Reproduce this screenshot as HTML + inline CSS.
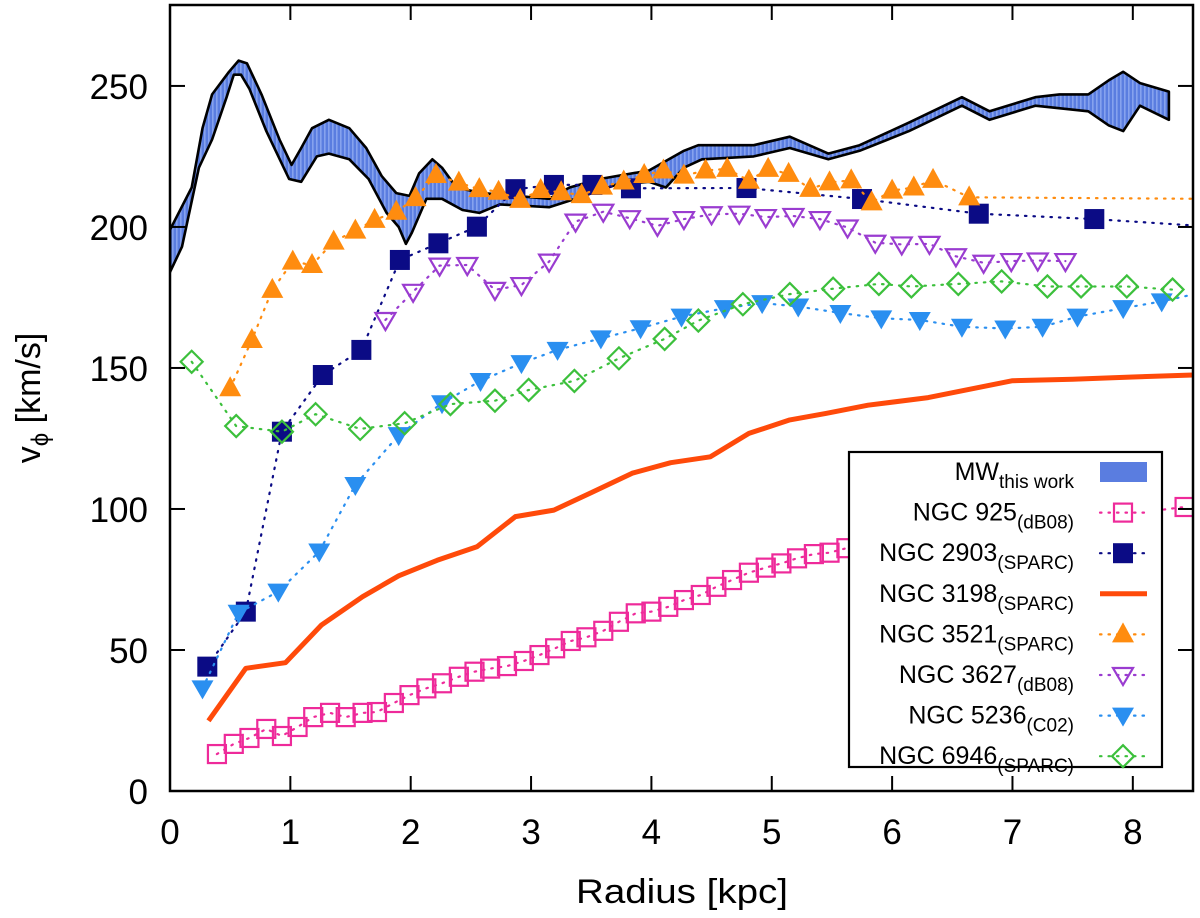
<!DOCTYPE html>
<html><head><meta charset="utf-8"><style>
html,body{margin:0;padding:0;background:#fff;}
svg{display:block;font-family:"Liberation Sans",Arial,sans-serif;}
</style></head><body>
<svg id="chart" width="1200" height="918" viewBox="0 0 1200 918" xmlns="http://www.w3.org/2000/svg">
<defs>
<pattern id="hatch" width="4" height="10" patternUnits="userSpaceOnUse">
<rect width="4" height="10" fill="#5a7de0"/><rect width="1.6" height="10" fill="#86a2ee"/>
</pattern>
<clipPath id="plotclip"><rect x="170" y="5" width="1023" height="786"/></clipPath>
</defs>
<g id="plot" clip-path="url(#plotclip)"></g>
<g id="axes"></g>
<g id="legend"></g>
<text x="682" y="903" font-size="34" text-anchor="middle" textLength="212" lengthAdjust="spacingAndGlyphs">Radius [kpc]</text>
<text transform="translate(40,398) rotate(-90)" font-size="34" text-anchor="middle">v<tspan font-size="24" dy="8">ϕ</tspan><tspan dy="-8"> [km/s]</tspan></text>
</svg>
<script>
// ---- data ----
const mwX = [0,0.18,0.27,0.35,0.49,0.57,0.64,0.76,0.91,1.01,1.09,1.18,1.32,1.49,1.63,1.76,1.88,1.99,2.07,2.18,2.26,2.38,2.59,2.88,3.15,3.32,3.57,3.98,4.27,4.39,4.85,5.15,5.47,5.73,6.14,6.58,6.81,7.19,7.39,7.63,7.80,7.92,8.06,8.30];
const mwUpper = [199,214,235,247,255,259,258,247,231,222,228,235,238,235,228,218,212,211,219,224,221,214,212,211,210,214,217,220,227,229,229,232,226,229,237,246,241,246,247,247,252,255,251,248];
const mwLowX = [0,0.10,0.24,0.35,0.47,0.53,0.59,0.66,0.80,0.99,1.09,1.22,1.32,1.49,1.65,1.80,1.90,1.96,2.01,2.13,2.26,2.43,2.57,2.74,3.15,3.37,3.71,3.98,4.12,4.27,4.42,4.85,5.15,5.47,5.73,6.14,6.58,6.81,7.19,7.63,7.80,7.92,8.06,8.30];
const mwLower = [184,193,221,231,246,254,254,249,234,217,216,225,226,224,217,205,200,194,198,210,210,206,205,208,207,210,215,216,214,221,224,225,228,224,227,234,243,238,243,241,236,234,243,238];

const n925X = [0.39,0.53,0.66,0.80,0.93,1.06,1.19,1.33,1.46,1.60,1.72,1.86,1.99,2.13,2.26,2.40,2.53,2.66,2.80,2.94,3.07,3.20,3.33,3.46,3.60,3.73,3.87,4.00,4.14,4.27,4.41,4.54,4.67,4.81,4.95,5.08,5.21,5.35,5.48,5.62,8.43];
const n925V = [13.1,16.7,18.8,22.0,19.5,22.7,26.2,27.7,26.2,27.7,28.0,31.2,34.0,36.4,38.2,40.5,42.3,43.4,44.3,46.1,48.2,50.6,53.2,54.5,56.8,60.0,63.0,63.6,65.3,67.7,69.5,72.4,74.8,77.4,79.2,80.7,82.5,84.0,84.5,86.1,100.7];

const n2903X = [0.31,0.63,0.93,1.27,1.59,1.91,2.23,2.55,2.87,3.19,3.51,3.83,4.79,5.75,6.72,7.68,8.7];
const n2903V = [44.1,63.6,127.4,147.5,156.4,188.3,194.2,200.1,213.4,214.9,214.9,213.7,213.8,209.9,204.7,202.8,200];

const n3198X = [0.32,0.63,0.96,1.26,1.6,1.9,2.22,2.55,2.87,3.19,3.51,3.84,4.16,4.49,4.81,5.15,5.45,5.8,6.3,7.0,7.5,8.0,8.5];
const n3198V = [24.9,43.5,45.5,58.9,68.9,76.3,81.8,86.6,97.3,99.6,106,112.7,116.4,118.5,126.8,131.6,133.9,136.8,139.5,145.5,146,146.8,147.5];

const n3521X = [0.50,0.68,0.85,1.02,1.18,1.36,1.54,1.70,1.88,2.04,2.21,2.40,2.57,2.73,2.91,3.08,3.25,3.42,3.59,3.77,3.94,4.10,4.27,4.45,4.63,4.81,4.97,5.14,5.32,5.48,5.66,5.83,6.00,6.18,6.34,6.64,8.8];
const n3521V = [142.8,159.9,177.7,187.7,186.5,194.8,198.7,202.5,205.4,210.2,218.4,215.7,213.4,212.5,209.6,213.1,212.3,211.3,214.3,216.1,218.4,220,218.2,220,220.6,216.4,220.6,218.8,213.5,215.8,216.5,208.7,212.9,214,216.7,210.5,209.9];

const n3627X = [1.79,2.02,2.24,2.47,2.70,2.92,3.15,3.37,3.60,3.82,4.05,4.27,4.50,4.73,4.95,5.18,5.40,5.63,5.86,6.08,6.31,6.53,6.76,6.99,7.21,7.44];
const n3627V = [167,177,186.3,186.5,177.7,179.4,187.7,201.9,205.4,203.1,200.4,202.8,204.5,204.7,203.5,203.9,202.8,199.8,194.4,193.8,194,189.6,187.3,187.9,188.1,187.9];

const n5236X = [0.27,0.57,0.90,1.24,1.54,1.90,2.26,2.58,2.92,3.22,3.58,3.91,4.25,4.61,4.92,5.22,5.57,5.91,6.23,6.58,6.94,7.25,7.54,7.92,8.24,8.6];
const n5236V = [36.4,63.2,70.7,84.9,108.5,126.2,137.5,145.4,151.7,156.4,160.5,164.1,168.2,171.2,173,171.8,169.5,167.6,167,164.6,164,164.6,168.2,171.2,173.6,177];

const n6946X = [0.18,0.55,0.93,1.21,1.58,1.95,2.33,2.70,2.98,3.36,3.73,4.11,4.39,4.76,5.15,5.51,5.89,6.16,6.55,6.91,7.29,7.57,7.95,8.33];
const n6946V = [152.2,129.4,127.4,133.6,128.4,130.4,137.2,138.4,142.2,145.4,153.4,160.3,166.8,172.6,176.2,178.1,179.8,178.9,179.8,180.7,178.9,178.9,178.9,177.8];

const xTicks = [0,1,2,3,4,5,6,7,8];
const yTicks = [0,50,100,150,200,250];

// ---- axes functions ----
const L=170,R=1193,T=5,B=791;
const XMIN=0,XMAX=8.5,YMIN=0,YMAX=278.7;
const sx=v=>L+(v-XMIN)/(XMAX-XMIN)*(R-L);
const sy=v=>B-(v-YMIN)/(YMAX-YMIN)*(B-T);
const NS='http://www.w3.org/2000/svg';
function mk(tag,attrs,parent){const e=document.createElementNS(NS,tag);for(const k in attrs)e.setAttribute(k,attrs[k]);parent.appendChild(e);return e;}
const plot=document.getElementById('plot');
const axes=document.getElementById('axes');
const legend=document.getElementById('legend');

// MW band
{
  let d='M'+mwX.map((x,i)=>sx(x).toFixed(1)+','+sy(mwUpper[i]).toFixed(1)).join(' L');
  for(let i=mwLowX.length-1;i>=0;i--) d+=' L'+sx(mwLowX[i]).toFixed(1)+','+sy(mwLower[i]).toFixed(1);
  d+=' Z';
  const band=mk('path',{d:d,fill:'url(#hatch)',stroke:'#000','stroke-width':'2.6','stroke-linejoin':'round'},plot);
  
  
}

function dotted(xs,vs,color,name){
  const p=mk('polyline',{points:xs.map((x,i)=>sx(x).toFixed(1)+','+sy(vs[i]).toFixed(1)).join(' '),fill:'none',stroke:color,'stroke-width':'2.2','stroke-dasharray':'1.5 7','stroke-linecap':'round'},plot);
  
  
}
function marker(type,cx,cy,color,parent){
  let e;
  if(type==='osq') e=mk('rect',{x:cx-9,y:cy-9,width:18,height:18,fill:'none',stroke:color,'stroke-width':'2.2'},parent);
  else if(type==='fsq') e=mk('rect',{x:cx-10,y:cy-10,width:20,height:20,fill:color},parent);
  else if(type==='ftri') e=mk('polygon',{points:`${cx},${cy-12} ${cx-11},${cy+8} ${cx+11},${cy+8}`,fill:color},parent);
  else if(type==='otri') e=mk('polygon',{points:`${cx},${cy+10} ${cx-10},${cy-7} ${cx+10},${cy-7}`,fill:'none',stroke:color,'stroke-width':'2.2'},parent);
  else if(type==='fdtri') e=mk('polygon',{points:`${cx},${cy+11} ${cx-11},${cy-8} ${cx+11},${cy-8}`,fill:color},parent);
  else if(type==='odia') e=mk('polygon',{points:`${cx},${cy-11} ${cx+11},${cy} ${cx},${cy+11} ${cx-11},${cy}`,fill:'none',stroke:color,'stroke-width':'2.2'},parent);
  return e;
}
function series(xs,vs,type,color,name){
  dotted(xs,vs,color,name+'-line');
  xs.forEach((x,i)=>{
    const m=marker(type,sx(x),sy(vs[i]),color,plot);
    
    
  });
}
series(n925X,n925V,'osq','#ee2a9a','ngc925');
series(n2903X,n2903V,'fsq','#0b0b85','ngc2903');
{
  const p=mk('polyline',{points:n3198X.map((x,i)=>sx(x).toFixed(1)+','+sy(n3198V[i]).toFixed(1)).join(' '),fill:'none',stroke:'#ff4a0a','stroke-width':'5','stroke-linejoin':'round'},plot);
  
  
}
series(n3521X,n3521V,'ftri','#ff8c0f','ngc3521');
series(n3627X,n3627V,'otri','#9a3cd0','ngc3627');
series(n5236X,n5236V,'fdtri','#2a8ff0','ngc5236');
series(n6946X,n6946V,'odia','#3cc03c','ngc6946');

// frame & ticks
{
  const f=mk('rect',{x:L,y:T,width:R-L,height:B-T,fill:'none',stroke:'#000','stroke-width':'2.5'},axes);
  
  
  xTicks.forEach(t=>{
    const x=sx(t);
    mk('line',{x1:x,y1:B,x2:x,y2:B-15,stroke:'#000','stroke-width':'2'},axes);
    mk('line',{x1:x,y1:T,x2:x,y2:T+15,stroke:'#000','stroke-width':'2'},axes);
    const lb=mk('text',{x:x,y:B+53,'font-size':'35','text-anchor':'middle'},axes);
    lb.textContent=t;
    
    
  });
  yTicks.forEach(t=>{
    const y=sy(t);
    mk('line',{x1:L,y1:y,x2:L+15,y2:y,stroke:'#000','stroke-width':'2'},axes);
    mk('line',{x1:R,y1:y,x2:R-15,y2:y,stroke:'#000','stroke-width':'2'},axes);
    const lb=mk('text',{x:148,y:y+13,'font-size':'35','text-anchor':'end'},axes);
    lb.textContent=t;
    
    
  });
}

// legend
const legNames=['MW','NGC 925','NGC 2903','NGC 3198','NGC 3521','NGC 3627','NGC 5236','NGC 6946'];
const legSubs=['this work','(dB08)','(SPARC)','(SPARC)','(SPARC)','(dB08)','(C02)','(SPARC)'];
const legTypes=['band','osq','fsq','line','ftri','otri','fdtri','odia'];
const legColors=['#5a7de0','#ee2a9a','#0b0b85','#ff4a0a','#ff8c0f','#9a3cd0','#2a8ff0','#3cc03c'];
{
  const box=mk('rect',{x:849,y:452,width:313,height:315,fill:'#fff',stroke:'#000','stroke-width':'2.2'},legend);
  
  
  legNames.forEach((nm,i)=>{
    const y=472+i*40.6;
    const g=mk('g',{},legend);
    
    
    const t=mk('text',{x:1074,y:y+8,'font-size':'25','text-anchor':'end'},g);
    t.innerHTML=nm+'<tspan font-size="19" dy="8">'+legSubs[i]+'</tspan>';
    const ty=legTypes[i],c=legColors[i];
    if(ty==='band') mk('rect',{x:1100,y:y-10,width:47,height:20,fill:c},g);
    else if(ty==='line') mk('line',{x1:1100,y1:y,x2:1147,y2:y,stroke:c,'stroke-width':'5'},g);
    else { mk('line',{x1:1100,y1:y,x2:1147,y2:y,stroke:c,'stroke-width':'2.2','stroke-dasharray':'1.5 7','stroke-linecap':'round'},g); marker(ty,1123,y,c,g); }
  });
}
</script>
</body></html>
